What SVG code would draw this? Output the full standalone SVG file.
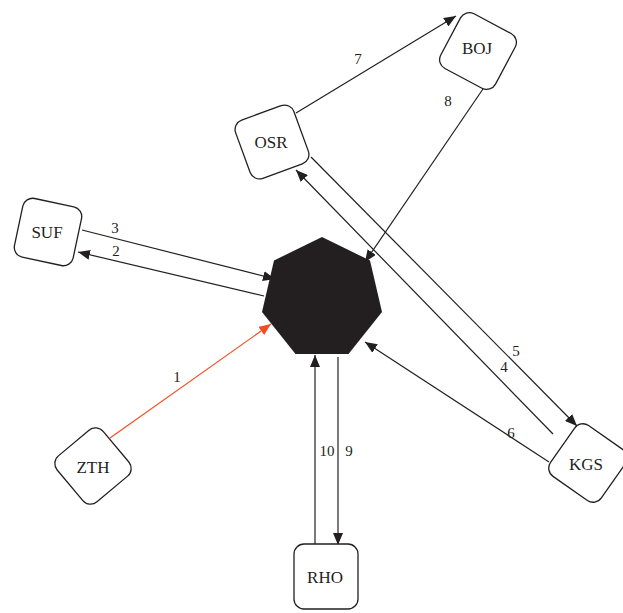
<svg xmlns="http://www.w3.org/2000/svg" width="623" height="613" viewBox="0 0 623 613">
<style>
.box{fill:#fff;stroke:#231f20;stroke-width:1.3}
.t{font-family:"Liberation Serif",serif;font-size:17px;fill:#231f20;text-anchor:middle;dominant-baseline:central}
.l{font-family:"Liberation Serif",serif;font-size:15px;fill:#231f20;text-anchor:middle;dominant-baseline:central}
.e{stroke:#231f20;stroke-width:1.2;fill:none;marker-end:url(#ah)}
.r{stroke:#f04e23;stroke-width:1.2;fill:none;marker-end:url(#ahr)}
</style>
<defs>
<marker id="ah" viewBox="0 0 12 10" refX="12" refY="5" markerWidth="12" markerHeight="10" markerUnits="userSpaceOnUse" orient="auto"><path d="M0,0L12,5L0,10z" fill="#231f20"/></marker>
<marker id="ahr" viewBox="0 0 12 10" refX="12" refY="5" markerWidth="12" markerHeight="10" markerUnits="userSpaceOnUse" orient="auto"><path d="M0,0L12,5L0,10z" fill="#f04e23"/></marker>
</defs>
<g id="connectors">
<line class="r" x1="110" y1="438" x2="271" y2="324"/>
<line class="e" x1="264" y1="296" x2="78" y2="252"/>
<line class="e" x1="82" y1="230" x2="275" y2="279"/>
<line class="e" x1="553" y1="434" x2="296" y2="170"/>
<line class="e" x1="311" y1="157" x2="577" y2="426"/>
<line class="e" x1="549" y1="462" x2="365" y2="342"/>
<line class="e" x1="296" y1="113" x2="456" y2="16"/>
<line class="e" x1="485" y1="86" x2="365" y2="262"/>
<line class="e" x1="338" y1="357" x2="338" y2="545"/>
<line class="e" x1="315" y1="544" x2="315" y2="355"/>
</g>
<g id="labels">
<text class="l" x="177" y="377">1</text>
<text class="l" x="116" y="251">2</text>
<text class="l" x="115" y="228">3</text>
<text class="l" x="504" y="367">4</text>
<text class="l" x="516" y="351">5</text>
<text class="l" x="511" y="433">6</text>
<text class="l" x="358" y="59">7</text>
<text class="l" x="448" y="101">8</text>
<text class="l" x="349" y="451">9</text>
<text class="l" x="327" y="451">10</text>
</g>
<g id="hub"><polygon points="322,237 370,260.5 382,312 348.5,354 295.5,354 262,312 274,260.5" fill="#231f20"/></g>
<g id="OSR"><rect class="box" x="-31" y="-31" width="62" height="62" rx="10" transform="translate(272,142) rotate(-20)"/><text class="t" x="271" y="142">OSR</text></g>
<g id="BOJ"><rect class="box" x="-31" y="-31" width="62" height="62" rx="10" transform="translate(478,51) rotate(28)"/><text class="t" x="477" y="48">BOJ</text></g>
<g id="SUF"><rect class="box" x="-30" y="-30" width="60" height="60" rx="10" transform="translate(48,232) rotate(12)"/><text class="t" x="47" y="232">SUF</text></g>
<g id="ZTH"><rect class="box" x="-30" y="-30" width="60" height="60" rx="10" transform="translate(93,466) rotate(-40)"/><text class="t" x="93" y="467">ZTH</text></g>
<g id="RHO"><rect class="box" x="294" y="544" width="64" height="65" rx="10"/><text class="t" x="325" y="577">RHO</text></g>
<g id="KGS"><rect class="box" x="-31" y="-31" width="62" height="62" rx="10" transform="translate(588,463) rotate(35)"/><text class="t" x="586" y="464">KGS</text></g>
</svg>
